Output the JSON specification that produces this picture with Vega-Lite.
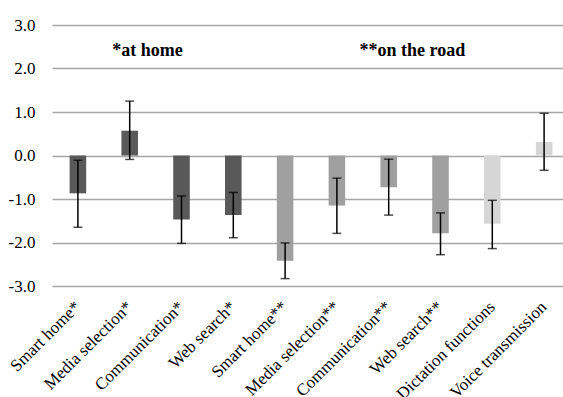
{
  "$schema": "https://vega.github.io/schema/vega-lite/v6.json",
  "width": 511,
  "height": 261,
  "autosize": {"type": "none"},
  "padding": {"left": 52, "top": 25, "right": 0, "bottom": 111},
  "background": "white",
  "config": {
    "view": {"stroke": null},
    "font": "Liberation Serif"
  },
  "datasets": {
    "bars": [
      {"cat": "Smart home*", "grp": "home", "mean": -0.87, "lo": -1.65, "hi": -0.11},
      {"cat": "Media selection*", "grp": "home", "mean": 0.57, "lo": -0.09, "hi": 1.25},
      {"cat": "Communication*", "grp": "home", "mean": -1.47, "lo": -2.02, "hi": -0.93},
      {"cat": "Web search*", "grp": "home", "mean": -1.37, "lo": -1.89, "hi": -0.85},
      {"cat": "Smart home**", "grp": "road", "mean": -2.42, "lo": -2.83, "hi": -2.01},
      {"cat": "Media selection**", "grp": "road", "mean": -1.15, "lo": -1.79, "hi": -0.52},
      {"cat": "Communication**", "grp": "road", "mean": -0.73, "lo": -1.37, "hi": -0.085},
      {"cat": "Web search**", "grp": "road", "mean": -1.79, "lo": -2.28, "hi": -1.32},
      {"cat": "Dictation functions", "grp": "other", "mean": -1.57, "lo": -2.14, "hi": -1.03},
      {"cat": "Voice transmission", "grp": "other", "mean": 0.31, "lo": -0.34, "hi": 0.97}
    ],
    "note1": [
      {"cat": "Media selection*", "y": 2.41, "text": "*at home"}
    ],
    "note2": [
      {"cat": "Communication**", "y": 2.41, "text": "**on the road"}
    ]
  },
  "layer": [
    {
      "data": {"name": "bars"},
      "mark": {"type": "bar"},
      "encoding": {
        "x": {
          "field": "cat", "type": "nominal", "sort": null,
          "scale": {
            "domain": ["Smart home*", "Media selection*", "Communication*", "Web search*", "Smart home**", "Media selection**", "Communication**", "Web search**", "Dictation functions", "Voice transmission"],
            "range": [0, 518],
            "paddingInner": 0.68,
            "paddingOuter": 0.34
          },
          "axis": {
            "title": null,
            "domain": false,
            "ticks": false,
            "labelAngle": -45,
            "labelAlign": "right",
            "labelBaseline": "middle",
            "labelPadding": 18,
            "labelFont": "Liberation Serif",
            "labelFontSize": 17,
            "labelColor": "#000000",
            "labelLimit": 0
          }
        },
        "y": {
          "field": "mean", "type": "quantitative",
          "scale": {"domain": [-3, 3], "nice": false, "zero": false},
          "axis": {
            "title": null,
            "values": [-3, -2, -1, 0, 1, 2, 3],
            "labelExpr": "replace(format(datum.value, '.1f'), '\u2212', '-')",
            "domain": false,
            "ticks": false,
            "grid": true,
            "gridColor": "#a6a6a6",
            "gridWidth": 1.5,
            "labelPadding": 17,
            "labelFont": "Liberation Serif",
            "labelFontSize": 17,
            "labelColor": "#000000"
          }
        },
        "y2": {"datum": 0},
        "color": {
          "field": "grp", "type": "nominal", "legend": null,
          "scale": {"domain": ["home", "road", "other"], "range": ["#595959", "#a0a0a0", "#d6d6d6"]}
        }
      }
    },
    {
      "data": {"name": "bars"},
      "mark": {"type": "rule", "color": "#000000", "strokeWidth": 1.5},
      "encoding": {
        "x": {"field": "cat", "type": "nominal", "sort": null},
        "y": {"field": "lo", "type": "quantitative"},
        "y2": {"field": "hi"}
      }
    },
    {
      "data": {"name": "bars"},
      "mark": {"type": "tick", "color": "#000000", "thickness": 1.5, "size": 9},
      "encoding": {
        "x": {"field": "cat", "type": "nominal", "sort": null},
        "y": {"field": "lo", "type": "quantitative"}
      }
    },
    {
      "data": {"name": "bars"},
      "mark": {"type": "tick", "color": "#000000", "thickness": 1.5, "size": 9},
      "encoding": {
        "x": {"field": "cat", "type": "nominal", "sort": null},
        "y": {"field": "hi", "type": "quantitative"}
      }
    },
    {
      "data": {"name": "note1"},
      "mark": {"type": "text", "font": "Liberation Serif", "fontSize": 18, "fontWeight": "bold", "color": "#000000", "align": "center", "baseline": "middle"},
      "encoding": {
        "x": {"field": "cat", "type": "nominal", "sort": null, "bandPosition": 1.58},
        "y": {"field": "y", "type": "quantitative"},
        "text": {"field": "text"}
      }
    },
    {
      "data": {"name": "note2"},
      "mark": {"type": "text", "font": "Liberation Serif", "fontSize": 18, "fontWeight": "bold", "color": "#000000", "align": "center", "baseline": "middle"},
      "encoding": {
        "x": {"field": "cat", "type": "nominal", "sort": null, "bandPosition": 1.93},
        "y": {"field": "y", "type": "quantitative"},
        "text": {"field": "text"}
      }
    }
  ]
}
